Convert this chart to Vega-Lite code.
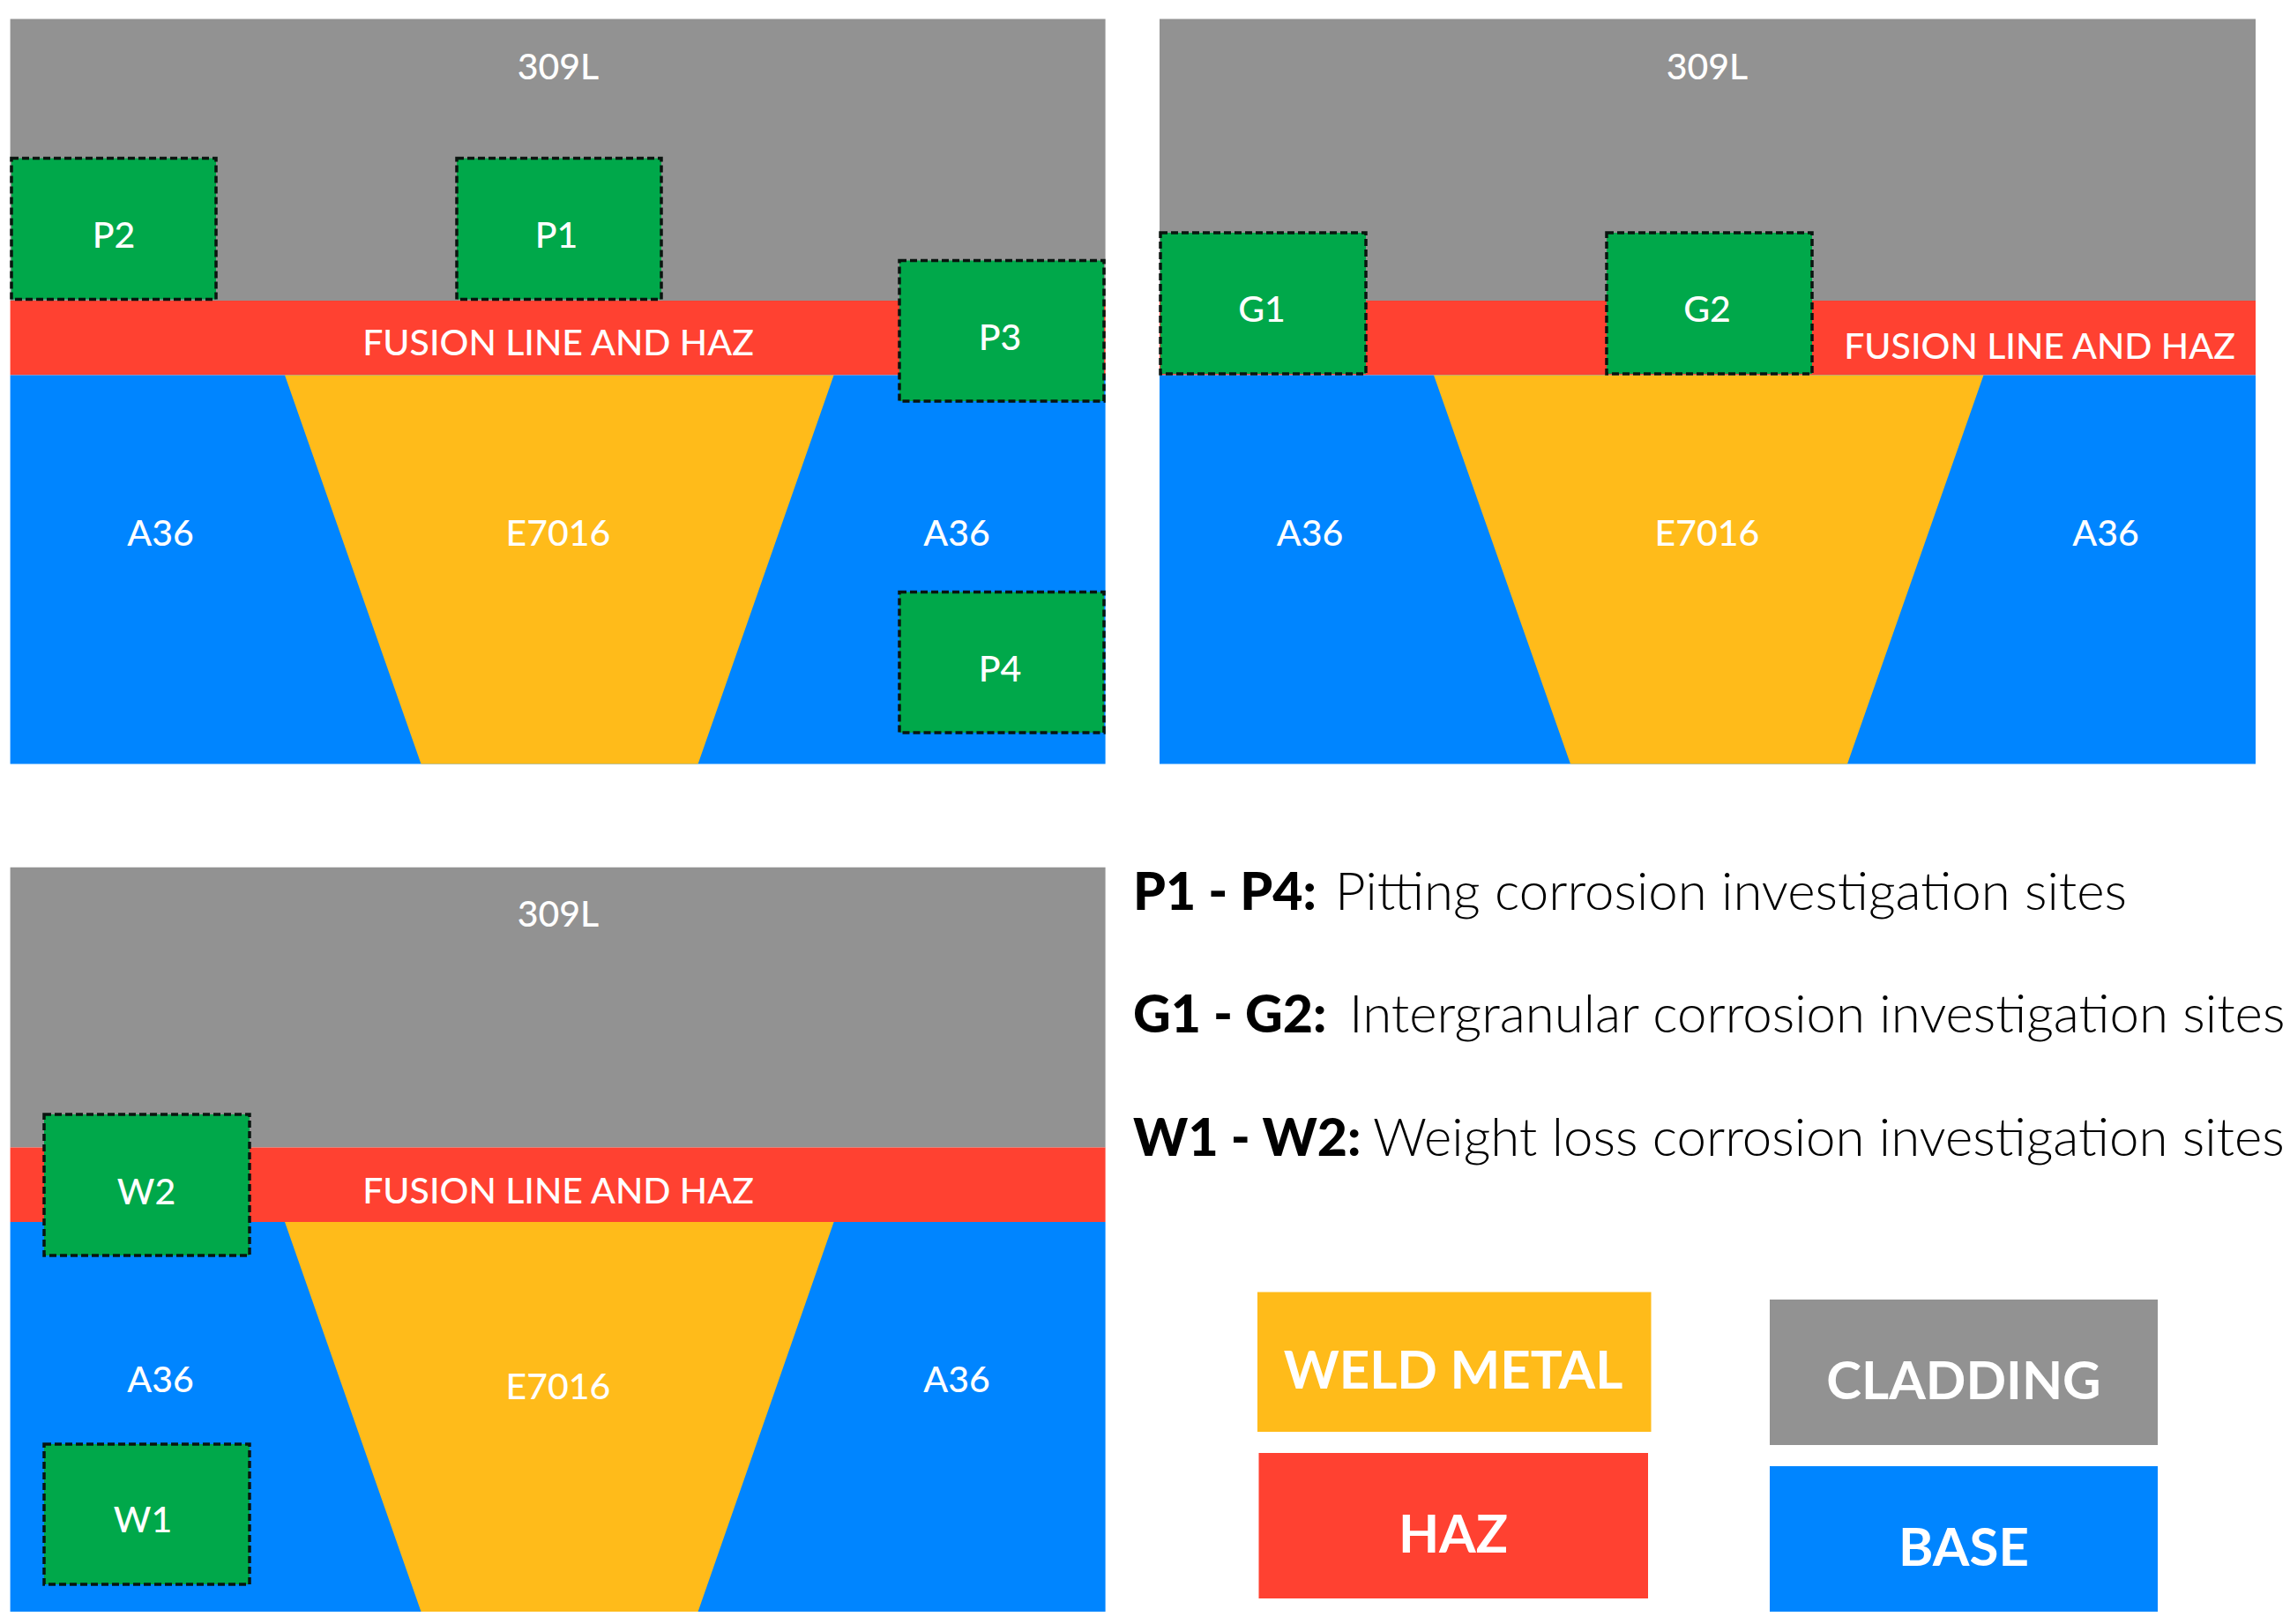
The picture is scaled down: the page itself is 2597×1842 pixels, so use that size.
{
  "$schema": "https://vega.github.io/schema/vega-lite/v6.json",
  "width": 2597,
  "height": 1842,
  "autosize": {"type": "fit", "contains": "padding"},
  "padding": 0,
  "background": "white",
  "config": {"view": {"stroke": null}},
  "datasets": {
    "zones": [
      {"zone": "cladding", "left": 11.6, "right": 1253.6, "top": 21.5, "bottom": 341},
      {"zone": "haz", "left": 11.6, "right": 1253.6, "top": 341, "bottom": 425.6},
      {"zone": "base", "left": 11.6, "right": 1253.6, "top": 425.6, "bottom": 866.5},
      {"zone": "cladding", "left": 1315, "right": 2558, "top": 21.5, "bottom": 341},
      {"zone": "haz", "left": 1315, "right": 2558, "top": 341, "bottom": 425.6},
      {"zone": "base", "left": 1315, "right": 2558, "top": 425.6, "bottom": 866.5},
      {"zone": "cladding", "left": 11.6, "right": 1253.6, "top": 983.7, "bottom": 1301.6},
      {"zone": "haz", "left": 11.6, "right": 1253.6, "top": 1301.6, "bottom": 1386},
      {"zone": "base", "left": 11.6, "right": 1253.6, "top": 1386, "bottom": 1828},
      {"zone": "weld", "left": 1426, "right": 1872.5, "top": 1465.5, "bottom": 1624},
      {"zone": "haz", "left": 1427.5, "right": 1869, "top": 1648, "bottom": 1813},
      {"zone": "cladding", "left": 2007, "right": 2447, "top": 1474, "bottom": 1639},
      {"zone": "base", "left": 2007, "right": 2447, "top": 1663, "bottom": 1828}
    ],
    "welds": [
      {"panel": "a", "depth": 425.6, "from": 323, "to": 945.6},
      {"panel": "a", "depth": 866.5, "from": 477.5, "to": 791.6},
      {"panel": "b", "depth": 425.6, "from": 1626, "to": 2249.5},
      {"panel": "b", "depth": 866.5, "from": 1781, "to": 2095},
      {"panel": "c", "depth": 1386, "from": 323, "to": 945.6},
      {"panel": "c", "depth": 1828, "from": 477.5, "to": 791.6}
    ],
    "sites": [
      {"site": "P2", "left": 13, "right": 245, "top": 179.5, "bottom": 339.5},
      {"site": "P1", "left": 518, "right": 750, "top": 179.5, "bottom": 339.5},
      {"site": "P3", "left": 1020, "right": 1252, "top": 295.5, "bottom": 455},
      {"site": "P4", "left": 1020, "right": 1252, "top": 671.5, "bottom": 831},
      {"site": "G1", "left": 1316, "right": 1549, "top": 264, "bottom": 424},
      {"site": "G2", "left": 1822, "right": 2055, "top": 264, "bottom": 424},
      {"site": "W2", "left": 50, "right": 283, "top": 1264, "bottom": 1424},
      {"site": "W1", "left": 50, "right": 283, "top": 1638, "bottom": 1797}
    ],
    "labels": [
      {"label": "309L", "px": 633, "py": 78},
      {"label": "309L", "px": 1936, "py": 78},
      {"label": "309L", "px": 633, "py": 1038.5},
      {"label": "A36", "px": 182, "py": 606.5},
      {"label": "A36", "px": 1085, "py": 606.5},
      {"label": "A36", "px": 1485.5, "py": 606.5},
      {"label": "A36", "px": 2388, "py": 606.5},
      {"label": "A36", "px": 182, "py": 1566.5},
      {"label": "A36", "px": 1085, "py": 1566.5},
      {"label": "E7016", "px": 633, "py": 606.5},
      {"label": "E7016", "px": 1936, "py": 606.5},
      {"label": "E7016", "px": 633, "py": 1575},
      {"label": "FUSION LINE AND HAZ", "px": 633, "py": 391},
      {"label": "FUSION LINE AND HAZ", "px": 2313, "py": 394.5},
      {"label": "FUSION LINE AND HAZ", "px": 633, "py": 1353},
      {"label": "P2", "px": 129, "py": 268.5},
      {"label": "P1", "px": 631, "py": 268.5},
      {"label": "P3", "px": 1134, "py": 384.5},
      {"label": "P4", "px": 1134, "py": 760.5},
      {"label": "G1", "px": 1431, "py": 352.5},
      {"label": "G2", "px": 1936, "py": 352.5},
      {"label": "W2", "px": 166, "py": 1353.5},
      {"label": "W1", "px": 162, "py": 1725.5}
    ],
    "keys": [
      {"label": "WELD METAL", "px": 1648, "py": 1557},
      {"label": "HAZ", "px": 1648, "py": 1743},
      {"label": "CLADDING", "px": 2227, "py": 1569},
      {"label": "BASE", "px": 2227, "py": 1758}
    ],
    "codes": [
      {"label": "P1 - P4:", "px": 1285, "py": 1014},
      {"label": "G1 - G2:", "px": 1285, "py": 1153},
      {"label": "W1 - W2:", "px": 1285, "py": 1293}
    ],
    "notes": [
      {"label": "Pitting corrosion investigation sites", "px": 1514, "py": 1014},
      {"label": "Intergranular corrosion investigation sites", "px": 1530, "py": 1153},
      {"label": "Weight loss corrosion investigation sites", "px": 1557, "py": 1293}
    ]
  },
  "layer": [
    {
      "data": {"name": "zones"},
      "mark": {"type": "rect"},
      "encoding": {
        "x": {"field": "left", "type": "quantitative", "scale": {"domain": [0, 2597]}, "axis": null},
        "x2": {"field": "right"},
        "y": {"field": "top", "type": "quantitative", "scale": {"domain": [1842, 0]}, "axis": null},
        "y2": {"field": "bottom"},
        "color": {
          "field": "zone",
          "type": "nominal",
          "scale": {
            "domain": ["cladding", "haz", "base", "weld"],
            "range": ["#929292", "#FF4131", "#0085FF", "#FFBB1A"]
          },
          "legend": null
        }
      }
    },
    {
      "data": {"name": "welds"},
      "mark": {"type": "area", "orient": "horizontal", "color": "#FFBB1A"},
      "encoding": {
        "y": {"field": "depth", "type": "quantitative", "scale": {"domain": [1842, 0]}, "axis": null},
        "x": {"field": "from", "type": "quantitative", "scale": {"domain": [0, 2597]}, "axis": null},
        "x2": {"field": "to"},
        "detail": {"field": "panel"}
      }
    },
    {
      "data": {"name": "sites"},
      "mark": {"type": "rect", "fill": "#00A84A", "stroke": "#0a140f", "strokeWidth": 3.5, "strokeDash": [8, 4]},
      "encoding": {
        "x": {"field": "left", "type": "quantitative", "scale": {"domain": [0, 2597]}, "axis": null},
        "x2": {"field": "right"},
        "y": {"field": "top", "type": "quantitative", "scale": {"domain": [1842, 0]}, "axis": null},
        "y2": {"field": "bottom"}
      }
    },
    {
      "data": {"name": "labels"},
      "mark": {"type": "text", "font": "Lato", "fontSize": 41, "fontWeight": 500, "color": "white", "align": "center", "baseline": "middle"},
      "encoding": {
        "x": {"field": "px", "type": "quantitative", "scale": {"domain": [0, 2597]}, "axis": null},
        "y": {"field": "py", "type": "quantitative", "scale": {"domain": [1842, 0]}, "axis": null},
        "text": {"field": "label"}
      }
    },
    {
      "data": {"name": "keys"},
      "mark": {"type": "text", "font": "Lato", "fontSize": 60, "fontWeight": "bold", "color": "white", "align": "center", "baseline": "middle"},
      "encoding": {
        "x": {"field": "px", "type": "quantitative", "scale": {"domain": [0, 2597]}, "axis": null},
        "y": {"field": "py", "type": "quantitative", "scale": {"domain": [1842, 0]}, "axis": null},
        "text": {"field": "label"}
      }
    },
    {
      "data": {"name": "codes"},
      "mark": {"type": "text", "font": "Lato", "fontSize": 59, "fontWeight": 900, "color": "black", "align": "left", "baseline": "middle"},
      "encoding": {
        "x": {"field": "px", "type": "quantitative", "scale": {"domain": [0, 2597]}, "axis": null},
        "y": {"field": "py", "type": "quantitative", "scale": {"domain": [1842, 0]}, "axis": null},
        "text": {"field": "label"}
      }
    },
    {
      "data": {"name": "notes"},
      "mark": {"type": "text", "font": "Lato", "fontSize": 60, "fontWeight": 300, "color": "black", "align": "left", "baseline": "middle"},
      "encoding": {
        "x": {"field": "px", "type": "quantitative", "scale": {"domain": [0, 2597]}, "axis": null},
        "y": {"field": "py", "type": "quantitative", "scale": {"domain": [1842, 0]}, "axis": null},
        "text": {"field": "label"}
      }
    }
  ]
}
